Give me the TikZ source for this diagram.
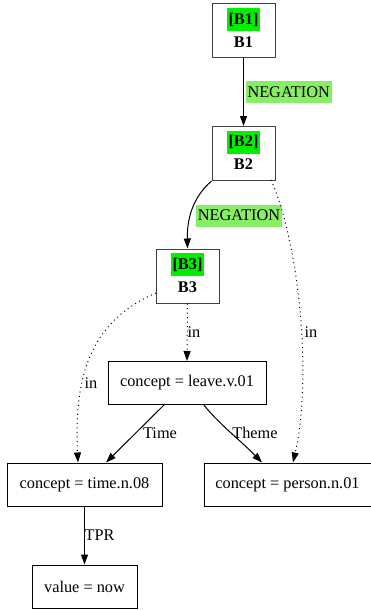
\documentclass[tikz,border=0pt]{standalone}
\usepackage{fontspec}
\setmainfont{Liberation Serif}
\usetikzlibrary{arrows.meta}
\definecolor{tagbg}{HTML}{00F000}
\definecolor{edgebg}{HTML}{88EE66}
\begin{document}
\begin{tikzpicture}[x=1pt,y=1pt,
  every node/.style={font=\fontsize{16.3}{18}\selectfont},
  drsbox/.style={draw=black!75,line width=1pt,minimum width=63pt,minimum height=54pt,inner sep=0pt},
  condbox/.style={draw=black,line width=1pt,minimum height=43pt,inner sep=0pt},
  tagbox/.style={fill=tagbg,inner xsep=2pt,inner ysep=0pt,minimum height=23pt,font=\fontsize{16.3}{18}\selectfont\bfseries},
  drsname/.style={inner sep=0pt,font=\fontsize{16.3}{18}\selectfont\bfseries},
  elabel/.style={inner sep=0pt},
  neglabel/.style={fill=edgebg,inner sep=0pt,minimum width=86pt,minimum height=22pt},
  edge/.style={line width=1pt,-{Triangle[length=10pt,width=7pt]}},
  inedge/.style={edge,dash pattern=on 1pt off 3.5pt}
]
\useasboundingbox (0,0) rectangle (371,-610);
% DRS boxes
\node[drsbox] (b1) at (243.5,-31) {};
\node[tagbox] (b1t) at (243.5,-19.5) {[B1]};
\node[drsname] (b1n) at (243.5,-42) {B1};
\node[drsbox] (b2) at (243.5,-153.5) {};
\node[tagbox] (b2t) at (243.5,-142) {[B2]};
\node[drsname] (b2n) at (243.5,-164.5) {B2};
\node[drsbox] (b3) at (187.5,-276) {};
\node[tagbox] (b3t) at (187.5,-264.5) {[B3]};
\node[drsname] (b3n) at (187.5,-287) {B3};
% condition boxes
\node[condbox,minimum width=158pt] (leave) at (187,-383) {concept = leave.v.01};
\node[condbox,minimum width=155pt] (time) at (84.5,-484.5) {concept = time.n.08};
\node[condbox,minimum width=167pt] (person) at (287.5,-484.5) {concept = person.n.01};
\node[condbox,minimum width=105pt] (value) at (84.5,-586.5) {value = now};
% edges
\draw[edge] (b1.south) -- (b2.north);
\node[neglabel] (l1) at (288.7,-92) {NEGATION};
\draw[edge] (b2.south west) .. controls (192,-198) and (187,-220) .. (b3.north);
\node[neglabel] (l2) at (239,-215.5) {NEGATION};
\coordinate (b2p) at (271,-180);
\draw[inedge] (b2p) .. controls (300,-245) and (312,-380) .. (person.north -| 293,0);
\node[elabel] (l3) at (311,-332) {in};
\draw[inedge] (b3.south) -- (leave.north);
\node[elabel] (l4) at (194,-332) {in};
\coordinate (b3l) at (156,-293);
\draw[inedge] (b3l) .. controls (88,-322) and (74,-380) .. (time.north -| 78,0);
\node[elabel] (l5) at (91,-383) {in};
\coordinate (lt) at (165,-404);
\draw[edge] (lt) -- (time.north -| 106,0);
\node[elabel] (l6) at (160,-433) {Time};
\coordinate (lp) at (203,-404);
\draw[edge] (lp) .. controls (220,-425) and (240,-440) .. (person.north -| 262,0);
\node[elabel] (l7) at (255,-433) {Theme};
\draw[edge] (time.south) -- (value.north);
\node[elabel] (l8) at (99.5,-535) {TPR};
\end{tikzpicture}
\end{document}
